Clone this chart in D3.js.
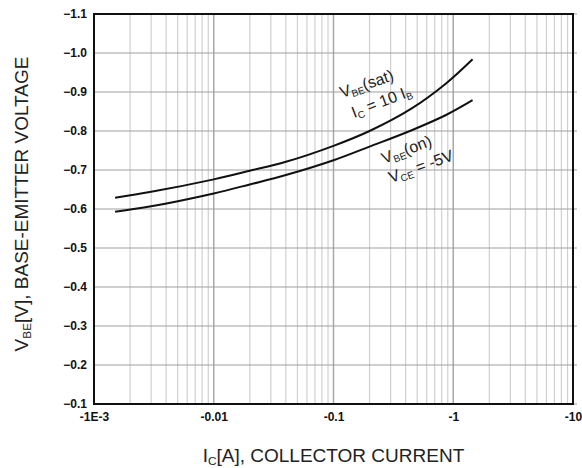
<!DOCTYPE html>
<html><head><meta charset="utf-8">
<script src="https://cdn.jsdelivr.net/npm/d3@7"></script>
<style>body{margin:0;background:#fff}svg{display:block}</style>
</head><body>
<script>
// Data (magnitudes of collector current in A, voltages in V)
const currents = [0.0015, 0.003, 0.01, 0.02, 0.04, 0.1, 0.2, 0.45, 0.87, 1.45];
const vbeSat   = [-0.629, -0.644, -0.676, -0.698, -0.721, -0.762, -0.800, -0.858, -0.922, -0.984];
const vbeOn    = [-0.593, -0.607, -0.640, -0.663, -0.687, -0.725, -0.760, -0.802, -0.841, -0.879];
const xTicks = [0.001, 0.01, 0.1, 1, 10];
const xTickLabels = ["-1E-3", "-0.01", "-0.1", "-1", "-10"];
const yTicks = [-1.1, -1.0, -0.9, -0.8, -0.7, -0.6, -0.5, -0.4, -0.3, -0.2, -0.1];

const W = 582, H = 468;
const m = {l: 94, r: 9, t: 14, b: 64};
const svg = d3.select("body").append("svg").attr("width", W).attr("height", H);

const x = d3.scaleLog().domain([0.001, 10]).range([m.l, W - m.r]);
const y = d3.scaleLinear().domain([-0.1, -1.1]).range([H - m.b, m.t]);

const g = svg.append("g");
// minor vertical grid
const minor = [];
for (let e = -3; e < 1; e++) for (let k = 2; k <= 9; k++) minor.push(k * Math.pow(10, e));
g.selectAll(".vmin").data(minor).enter().append("line")
  .attr("x1", d => x(d)).attr("x2", d => x(d))
  .attr("y1", y(-1.1)).attr("y2", y(-0.1))
  .attr("stroke", "#d0d0d0").attr("stroke-width", 1.2);
g.selectAll(".vmaj").data(xTicks).enter().append("line")
  .attr("x1", d => x(d)).attr("x2", d => x(d))
  .attr("y1", y(-1.1)).attr("y2", y(-0.1))
  .attr("stroke", "#a8a8a8").attr("stroke-width", 1.5);
g.selectAll(".hgrid").data(yTicks).enter().append("line")
  .attr("x1", x(0.001)).attr("x2", x(10) + 4)
  .attr("y1", d => y(d)).attr("y2", d => y(d))
  .attr("stroke", "#a0a0a0").attr("stroke-width", 1.2);

// border
svg.append("rect").attr("x", x(0.001)).attr("y", y(-1.1))
  .attr("width", x(10) - x(0.001)).attr("height", y(-0.1) - y(-1.1))
  .attr("fill", "none").attr("stroke", "#111").attr("stroke-width", 2);

// axes labels
const xAxis = d3.axisBottom(x).tickValues(xTicks).tickFormat((d, i) => xTickLabels[i]).tickSize(0).tickPadding(8);
const xa = svg.append("g").attr("transform", `translate(0,${y(-0.1)})`).call(xAxis);
xa.select(".domain").remove();
xa.selectAll("text").attr("font-family", "Liberation Sans, Arial, sans-serif")
  .attr("font-size", 12).attr("font-weight", "bold").attr("fill", "#111");

const yAxis = d3.axisLeft(y).tickValues(yTicks).tickFormat(d3.format(".1f")).tickSize(0).tickPadding(7);
const ya = svg.append("g").attr("transform", `translate(${x(0.001)},0)`).call(yAxis);
ya.select(".domain").remove();
ya.selectAll("text").attr("font-family", "Liberation Sans, Arial, sans-serif")
  .attr("font-size", 12).attr("font-weight", "bold").attr("fill", "#111");

// curves
const line = d3.line().x(d => x(d[0])).y(d => y(d[1])).curve(d3.curveCatmullRom.alpha(0.5));
[vbeSat, vbeOn].forEach(vs => {
  svg.append("path").datum(currents.map((c, i) => [c, vs[i]]))
    .attr("d", line).attr("fill", "none").attr("stroke", "#111").attr("stroke-width", 2);
});

const font = "Liberation Sans, Arial, sans-serif";
function label(parts, tx, ty, rot, size) {
  const t = svg.append("text").attr("transform", `translate(${tx},${ty}) rotate(${rot})`)
    .attr("font-family", font).attr("font-size", size).attr("fill", "#222");
  parts.forEach(p => {
    const ts = t.append("tspan").text(p[0]);
    if (p[1] === "sub") ts.attr("font-size", size * 0.62).attr("dy", size * 0.18);
    else if (p[1] === "up") ts.attr("dy", -size * 0.18);
  });
  return t;
}
label([["V"], ["BE", "sub"], ["(sat)", "up"]], 342, 98, -19, 16);
label([["I"], ["C", "sub"], [" = 10 I", "up"], ["B", "sub"]], 354, 118, -21, 16);
label([["V"], ["BE", "sub"], ["(on)", "up"]], 384, 164, -21, 16);
label([["V"], ["CE", "sub"], [" = -5V", "up"]], 391, 183, -20, 16);

// axis titles
const xt = label([["I"], ["C", "sub"], ["[A], COLLECTOR CURRENT", "up"]], 0, 0, 0, 19);
xt.attr("transform", `translate(${(x(0.001) + x(10)) / 2},462)`).attr("text-anchor", "middle");
const yt = label([["V"], ["BE", "sub"], ["[V], BASE-EMITTER VOLTAGE", "up"]], 0, 0, 0, 19);
yt.attr("transform", `translate(28,${(y(-1.1) + y(-0.1)) / 2 - 5}) rotate(-90)`).attr("text-anchor", "middle");
</script>
</body></html>
